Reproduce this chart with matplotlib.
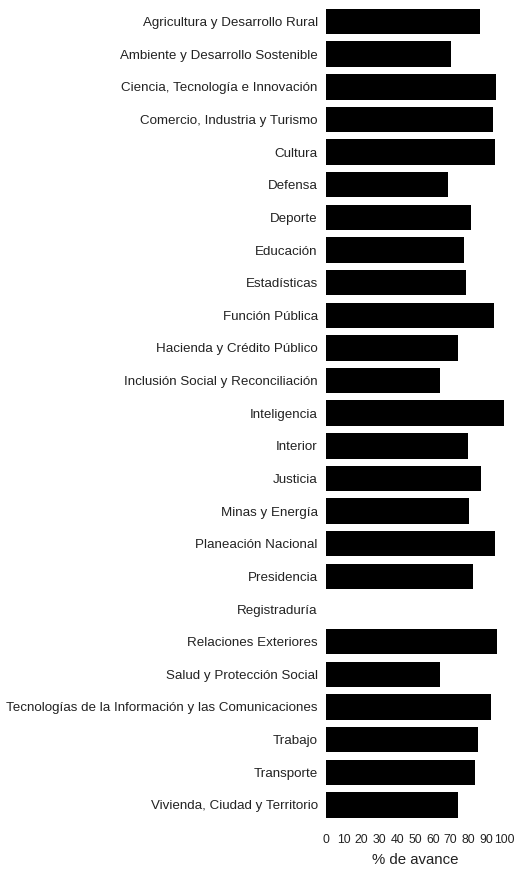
import matplotlib

matplotlib.use('Agg')
import matplotlib.pyplot as plt

# sectores y % de avance
sectores = [
    "Agricultura y Desarrollo Rural",
    "Ambiente y Desarrollo Sostenible",
    "Ciencia, Tecnología e Innovación",
    "Comercio, Industria y Turismo",
    "Cultura",
    "Defensa",
    "Deporte",
    "Educación",
    "Estadísticas",
    "Función Pública",
    "Hacienda y Crédito Público",
    "Inclusión Social y Reconciliación",
    "Inteligencia",
    "Interior",
    "Justicia",
    "Minas y Energía",
    "Planeación Nacional",
    "Presidencia",
    "Registraduría",
    "Relaciones Exteriores",
    "Salud y Protección Social",
    "Tecnologías de la Información y las Comunicaciones",
    "Trabajo",
    "Transporte",
    "Vivienda, Ciudad y Territorio",
]
avance = [86.5, 70, 95.5, 94, 95, 68.5, 81.5, 77.5, 78.5, 94.5,
          74, 64, 100, 80, 87, 80.5, 95, 82.5, 0, 96,
          64, 93, 85.5, 83.5, 74]
ticks_x = list(range(0, 101, 10))

plt.rcParams['font.family'] = ['Liberation Sans', 'DejaVu Sans']

fig = plt.figure(figsize=(5.2, 8.69), dpi=100)
ax = fig.add_axes([0.627, 0.055, 0.342, 0.939])

pos = list(range(len(sectores)))
ax.barh(pos, avance, height=0.78, color='black')

ax.set_ylim(len(sectores) - 0.5, -0.5)
ax.set_xlim(0, 100)
ax.set_yticks(pos)
ax.set_yticklabels(sectores, fontsize=9.6, color='#222222')
ax.set_xticks(ticks_x)
ax.set_xticklabels([str(t) for t in ticks_x], fontsize=8.8, color='#222222')
ax.tick_params(length=0, pad=6)
ax.tick_params(axis='x', pad=9)
ax.set_xlabel("% de avance", fontsize=10.8, color='#222222', labelpad=5)

for s in ax.spines.values():
    s.set_visible(False)

fig.savefig("out.png", dpi=100)
plt.close(fig)
